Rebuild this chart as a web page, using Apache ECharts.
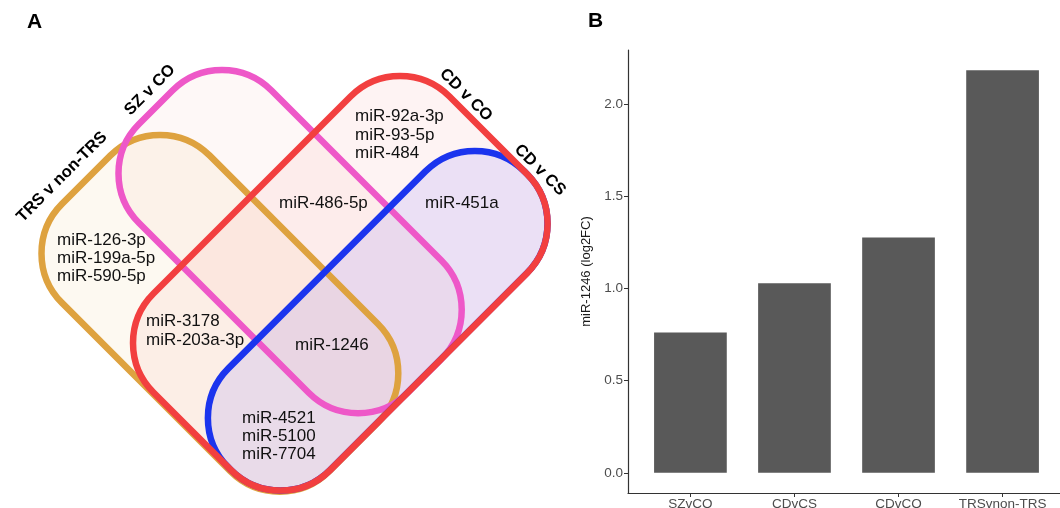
<!DOCTYPE html>
<html><head><meta charset="utf-8">
<script src="https://cdn.jsdelivr.net/npm/echarts@6/dist/echarts.min.js"></script>
<style>html,body{margin:0;padding:0;background:#fff}#c{width:1060px;height:508px}</style>
</head><body><div id="c"></div>
<script>
// ---------- DATA ----------
const setNames = ['TRS v non-TRS', 'SZ v CO', 'CD v CO', 'CD v CS'];
const regionLabels = [
  ['miR-126-3p', 'miR-199a-5p', 'miR-590-5p'],
  ['miR-92a-3p', 'miR-93-5p', 'miR-484'],
  ['miR-486-5p'],
  ['miR-451a'],
  ['miR-3178', 'miR-203a-3p'],
  ['miR-1246'],
  ['miR-4521', 'miR-5100', 'miR-7704']
];
const barCategories = ['SZvCO', 'CDvCS', 'CDvCO', 'TRSvnon-TRS'];
const barValues = [0.762, 1.029, 1.277, 2.185];
const yTicks = [0, 0.5, 1.0, 1.5, 2.0];
const yAxisTitle = 'miR-1246 (log2FC)';

// ---------- LAYOUT (Venn geometry, in panel-A pixel space) ----------
const vennShapes = [
  {cx: 219.9, cy: 313.3, len: 378, wid: 208.6, angle: -45, stroke: '#dea23f', fill: 'rgba(230,170,70,0.075)'},
  {cx: 290.1, cy: 241.6, len: 380, wid: 187.4, angle: -45, stroke: '#ee58c8', fill: 'rgba(240,110,90,0.05)'},
  {cx: 340.3, cy: 283.3, len: 418.6, wid: 249.7, angle: 45, stroke: '#f23f3f', fill: 'rgba(235,90,80,0.07)'},
  {cx: 377.7, cy: 320.7, len: 418.6, wid: 143.7, angle: 45, stroke: '#1b34ee', fill: 'rgba(110,90,255,0.13)'}
];
const strokeOrder = [0, 1, 3, 2];
const setLabelPos = [
  {x: 62, y: 177, angle: 45},
  {x: 150, y: 90, angle: 45},
  {x: 466, y: 95, angle: -45},
  {x: 540, y: 170, angle: -45}
];
const regionLabelPos = [
  {x: 57, y: 231}, {x: 355, y: 107.5}, {x: 279, y: 194}, {x: 425, y: 194},
  {x: 146, y: 312.5}, {x: 295, y: 336}, {x: 242, y: 409}
];
const CORNER = 70;
const FONT = '"Liberation Sans", Arial, Helvetica, sans-serif';

function shapeEl(api, i, mode) {
  const g = vennShapes[i];
  const p = api.coord([g.cx, g.cy]);
  const sz = api.size([1, 1]);
  const L = g.len * sz[0], W = g.wid * sz[0];
  return {
    type: 'rect', x: p[0], y: p[1], rotation: g.angle * Math.PI / 180,
    shape: {x: -L / 2, y: -W / 2, width: L, height: W, r: CORNER * sz[0]},
    style: mode === 'fill' ? {fill: g.fill, stroke: null}
                           : {fill: null, stroke: g.stroke, lineWidth: 6.5}
  };
}

const chart = echarts.init(document.getElementById('c'), null, {renderer: 'canvas'});
chart.setOption({
  animation: false,
  title: [
    {text: 'A', left: 22, top: 7, textStyle: {fontSize: 21, fontWeight: 'bold', color: '#000', fontFamily: FONT}},
    {text: 'B', left: 583, top: 6, textStyle: {fontSize: 21, fontWeight: 'bold', color: '#000', fontFamily: FONT}}
  ],
  grid: [
    {left: 628, right: 0, top: 50, bottom: 15, containLabel: false, outerBoundsMode: 'none'},
    {left: 0, top: 0, width: 580, height: 508, containLabel: false, outerBoundsMode: 'none'}
  ],
  xAxis: [
    {
      gridIndex: 0, type: 'value', min: 0.4, max: 4.552,
      splitLine: {show: false},
      axisLine: {onZero: false, lineStyle: {color: '#333', width: 1.2}},
      axisTick: {show: true, customValues: [1, 2, 3, 4], length: 4, lineStyle: {color: '#333'}},
      axisLabel: {customValues: [1, 2, 3, 4], formatter: v => barCategories[Math.round(v) - 1],
                  color: '#4d4d4d', fontSize: 13.5, margin: 4, fontFamily: FONT}
    },
    {gridIndex: 1, type: 'value', min: 0, max: 580, show: false}
  ],
  yAxis: [
    {
      gridIndex: 0, type: 'value', min: -0.10925, max: 2.29425,
      splitLine: {show: false},
      axisLine: {show: true, onZero: false, lineStyle: {color: '#333', width: 1.2}},
      axisTick: {show: true, customValues: yTicks, length: 4, lineStyle: {color: '#333'}},
      axisLabel: {customValues: yTicks, formatter: v => v.toFixed(1), color: '#4d4d4d',
                  fontSize: 13.5, margin: 5, fontFamily: FONT},
      name: yAxisTitle, nameLocation: 'middle', nameGap: 35,
      nameTextStyle: {fontSize: 13, color: '#1a1a1a', fontFamily: FONT}
    },
    {gridIndex: 1, type: 'value', min: 0, max: 508, inverse: true, show: false}
  ],
  series: [
    {
      type: 'bar', xAxisIndex: 0, yAxisIndex: 0,
      data: barValues.map((v, i) => [i + 1, v]),
      barWidth: 72.7,
      itemStyle: {color: '#595959'}
    },
    {
      type: 'custom', xAxisIndex: 1, yAxisIndex: 1, z: 1, silent: true,
      data: setNames.map((n, i) => [i]),
      renderItem: (params, api) => shapeEl(api, api.value(0), 'fill')
    },
    {
      type: 'custom', xAxisIndex: 1, yAxisIndex: 1, z: 2, silent: true,
      data: strokeOrder.map(i => [i]),
      renderItem: (params, api) => shapeEl(api, api.value(0), 'stroke')
    },
    {
      type: 'custom', xAxisIndex: 1, yAxisIndex: 1, z: 3, silent: true,
      data: setNames.map((n, i) => [i]),
      renderItem: (params, api) => {
        const i = api.value(0);
        const pos = setLabelPos[i];
        const p = api.coord([pos.x, pos.y]);
        return {
          type: 'text', x: p[0], y: p[1], rotation: pos.angle * Math.PI / 180,
          style: {text: setNames[i], fill: '#000', font: 'bold 16.5px ' + FONT,
                  align: 'center', verticalAlign: 'middle'}
        };
      }
    },
    {
      type: 'custom', xAxisIndex: 1, yAxisIndex: 1, z: 3, silent: true,
      data: regionLabels.map((l, i) => [i]),
      renderItem: (params, api) => {
        const i = api.value(0);
        const pos = regionLabelPos[i];
        const p = api.coord([pos.x, pos.y]);
        return {
          type: 'text', x: p[0], y: p[1],
          style: {text: regionLabels[i].join('\n'), fill: '#111', font: '17px ' + FONT,
                  lineHeight: 18.3, align: 'left', verticalAlign: 'top'}
        };
      }
    }
  ]
});
</script>
</body></html>
